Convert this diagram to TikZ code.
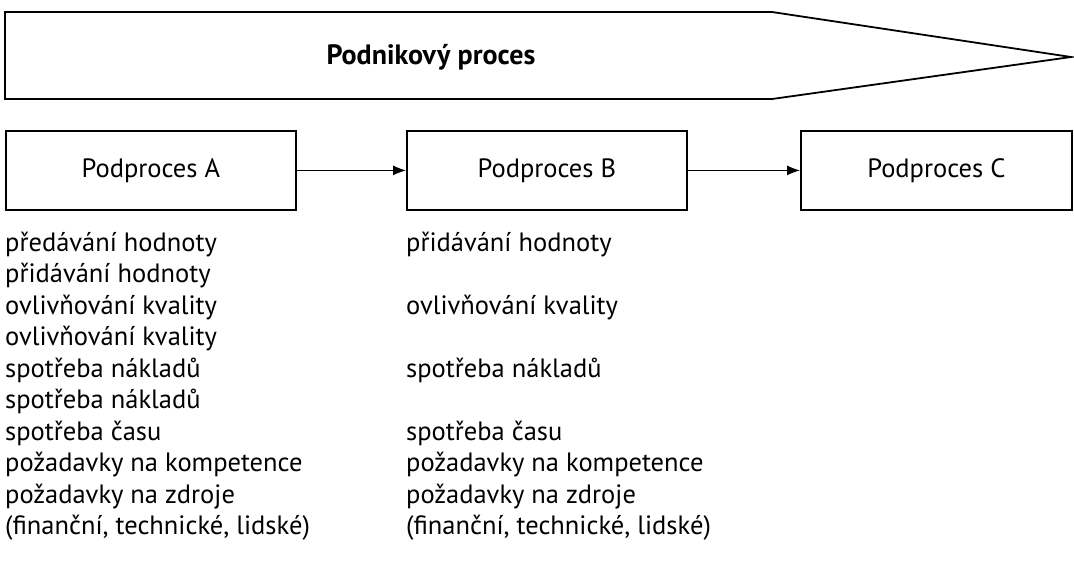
\documentclass[tikz,border=0pt]{standalone}
\usepackage{fontspec}
\setmainfont{PT Sans}
\usetikzlibrary{arrows.meta}
\begin{document}
\begin{tikzpicture}[x=1pt,y=-1pt,
  proc/.style={draw,line width=1.8pt,minimum width=290pt,minimum height=79pt,anchor=north west,inner sep=0pt,font=\fontsize{26.5}{30}\selectfont},
  itm/.style={anchor=base west,inner sep=0pt,font=\fontsize{26.5}{30}\selectfont},
  conn/.style={-{Latex[length=13pt,width=10pt]},line width=1pt}]
\useasboundingbox (0,0) rectangle (1074,574);
\draw[line width=1.8pt,line join=miter] (5,12) -- (772,12) -- (1071,57) -- (772,99) -- (5,99) -- cycle;
\node[font=\fontsize{28}{30}\selectfont\bfseries] (title) at (431,57) {Podnikový proces};
\node[proc] (A) at (5,130) {Podproces A};
\node[proc,minimum width=280pt] (B) at (406,130) {Podproces B};
\node[proc,minimum width=271pt] (C) at (800,130) {Podproces C};
\draw[conn] (A.east) -- (B.west);
\draw[conn] (B.east) -- (C.west);
\foreach \t [count=\i] in {předávání hodnoty,přidávání hodnoty,ovlivňování kvality,ovlivňování kvality,spotřeba nákladů,spotřeba nákladů,spotřeba času,požadavky na kompetence,požadavky na zdroje,{(finanční, technické, lidské)}}
  \node[itm] (a\i) at (5,{251+31.5*(\i-1)}) {\t};
\foreach \t/\i in {přidávání hodnoty/1,ovlivňování kvality/3,spotřeba nákladů/5,spotřeba času/7,požadavky na kompetence/8,požadavky na zdroje/9,{(finanční, technické, lidské)}/10}
  \node[itm] (b\i) at (406,{251+31.5*(\i-1)}) {\t};
\end{tikzpicture}
\end{document}
